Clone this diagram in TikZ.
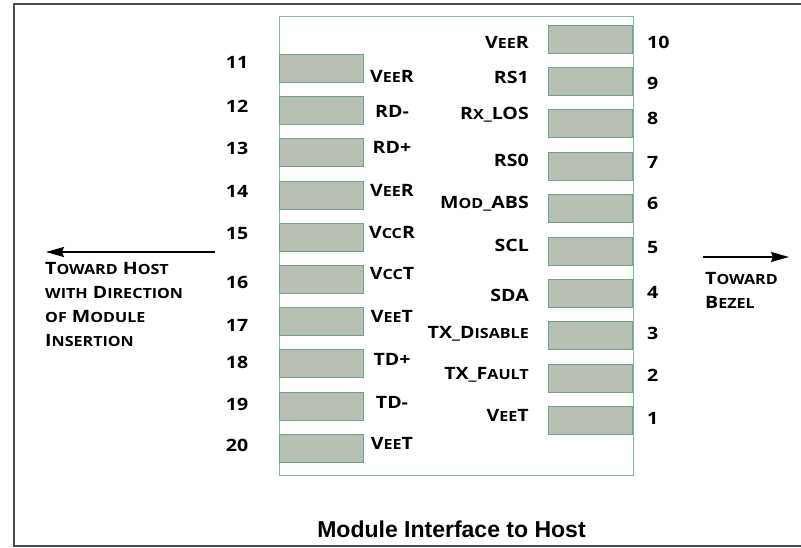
\documentclass[tikz,border=0pt]{standalone}
\usepackage{fontspec}
\usetikzlibrary{positioning, arrows.meta}

\newfontfamily\lblfont{Open Sans}[FakeStretch=1.15]
\newfontfamily\capfont{Liberation Sans}
\newcommand\smc[1]{{\fontsize{14}{14}\selectfont #1}}

\definecolor{padfill}{RGB}{184,191,179}
\definecolor{padedge}{RGB}{112,160,146}
\definecolor{boxedge}{RGB}{140,180,168}
\definecolor{framegray}{RGB}{72,76,86}

\tikzset{
  pad/.style={draw=padedge, fill=padfill, line width=1pt,
    minimum width=84pt, minimum height=28pt, inner sep=0pt},
  pin/.style={font=\lblfont\bfseries\fontsize{17}{17}\selectfont, inner sep=0pt},
  dirtext/.style={pin, align=left, font=\lblfont\bfseries\fontsize{17}{24}\selectfont},
  dirarrow/.style={line width=1.4pt, -{Stealth[length=18pt, width=10pt, inset=2pt]}}
}

\begin{document}
\begin{tikzpicture}[x=1pt, y=-1pt]
\useasboundingbox (0,0) rectangle (801,547);
% outer frame
\draw[framegray, line width=1.6pt] (802,4) -- (14,4) -- (14,546) -- (802,546);

% module outline
\node[draw=boxedge, line width=1pt, minimum width=354pt, minimum height=459pt,
  inner sep=0pt, anchor=north west] (module) at (279,16) {};

% contact pads
\foreach \n [count=\k from 0] in {11,...,20}
  \node[pad] (p\n) at (321, 68.5+42.2*\k) {};
\foreach \n [count=\k from 0] in {10,9,...,1}
  \node[pad] (p\n) at (590.5, 39+42.4*\k) {};

% pin numbers
\foreach \n/\y in {11/68,12/112,13/154,14/197,15/239,16/288,17/331,18/368,19/410,20/451}
  \node[pin, anchor=base] (n\n) at (237,\y) {\n};
\foreach \n/\y in {10/48,9/89,8/124,7/168,6/209,5/253,4/298,3/339,2/381,1/424}
  \node[pin, anchor=base west] (n\n) at (647,\y) {\n};

% signal names
\foreach \n/\y/\t in {11/82/V\smc{EE}R, 12/117/RD-, 13/153/RD+, 14/196/V\smc{EE}R,
    15/238/V\smc{CC}R, 16/279/V\smc{CC}T, 17/322/V\smc{EE}T, 18/365/TD+,
    19/408/TD-, 20/449/V\smc{EE}T}
  \node[pin, anchor=base] (s\n) at (392,\y) {\t};
\foreach \n/\y/\t in {10/48/V\smc{EE}R, 9/83/RS1, 8/119/R\smc{X}\_LOS, 7/166/RS0,
    6/208/M\smc{OD}\_ABS, 5/251/SCL, 4/301/SDA, 3/338/TX\_D\smc{ISABLE},
    2/379/TX\_F\smc{AULT}, 1/421/V\smc{EE}T}
  \node[pin, anchor=base east] (s\n) at (529,\y) {\t};

% directions
\coordinate (hostA) at (215,252);
\coordinate (hostB) at (46,252);
\coordinate (bezA) at (703,257);
\coordinate (bezB) at (789,257);
\draw[dirarrow] (hostA) -- (hostB);
\draw[dirarrow] (bezA) -- (bezB);
\node[dirtext, anchor=north west] (hosttxt) at (45,262)
  {T\smc{OWARD} H\smc{OST}\\ \smc{WITH} D\smc{IRECTION}\\ \smc{OF} M\smc{ODULE}\\ I\smc{NSERTION}};
\node[dirtext, anchor=north west] (beztxt) at (705,272)
  {T\smc{OWARD}\\ B\smc{EZEL}};

\node[font=\capfont\bfseries\fontsize{23}{23}\selectfont, inner sep=0pt, anchor=base]
  (caption) at (451.5,537) {Module Interface to Host};
\end{tikzpicture}
\end{document}
